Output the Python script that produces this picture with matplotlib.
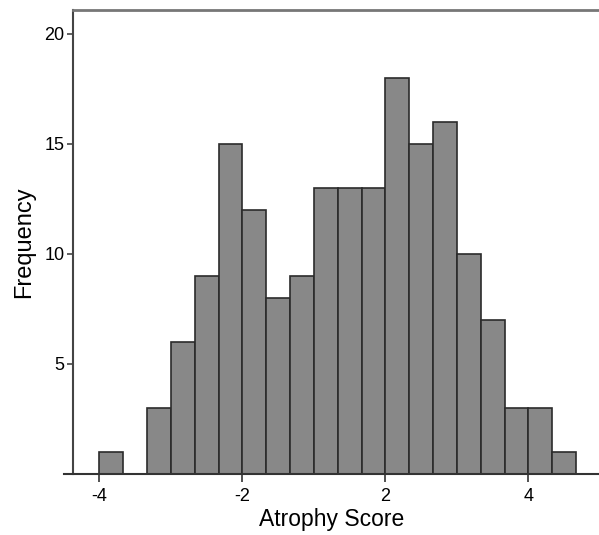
import numpy as np
import matplotlib
matplotlib.use("Agg")
import matplotlib.pyplot as plt

plt.rcParams['font.family'] = ['Liberation Sans', 'DejaVu Sans']

# Histogram data (bin counts, left to right)
counts = [1, 0, 3, 6, 9, 15, 12, 8, 9, 13, 13, 13, 18, 15, 16, 10, 7, 3, 3, 1]
bin_start = -3.0
bin_width = 1.0 / 3.0
x_tick_pos = [-3, -1, 1, 3]
x_tick_labels = ["-4", "-2", "2", "4"]
y_ticks = [5, 10, 15, 20]

W, H = 599, 535
fig = plt.figure(figsize=(W / 100, H / 100), dpi=100)
ax_left_px, ax_bottom_px, ax_top_px = 64, 474, 9.5
ax = fig.add_axes([ax_left_px / W, 1 - ax_bottom_px / H, 1 - ax_left_px / W,
                   (ax_bottom_px - ax_top_px) / H])

edges = bin_start + bin_width * np.arange(len(counts))
ax.bar(edges, counts, width=bin_width, align='edge', color='#888888',
       edgecolor='#2b2b2b', linewidth=1.2)

ax.set_xlim(-3.495, 3.987)
ax.set_ylim(0, 21.1)

ax.set_xticks(x_tick_pos)
ax.set_xticklabels(x_tick_labels)
ax.set_yticks(y_ticks)

left_pos = -3.369
ax.spines['left'].set_position(('data', left_pos))
ax.spines['left'].set_color('#444444')
ax.spines['left'].set_linewidth(1.5)
ax.spines['bottom'].set_color('#333333')
ax.spines['bottom'].set_linewidth(1.5)
ax.spines['top'].set_bounds(left_pos, 3.987)
ax.spines['top'].set_color('#777777')
ax.spines['top'].set_linewidth(2.0)
ax.spines['right'].set_visible(False)

ax.tick_params(axis='x', direction='out', length=6, width=1.2, color='#333333',
               labelsize=13, pad=4)
ax.tick_params(axis='y', direction='out', length=4, width=1.2, color='#444444',
               labelsize=13, pad=2)

ax.set_xlabel("Atrophy Score", fontsize=16.5, labelpad=2)
ax.set_ylabel("Frequency", fontsize=17, labelpad=7)

fig.savefig("out.png", dpi=100)
